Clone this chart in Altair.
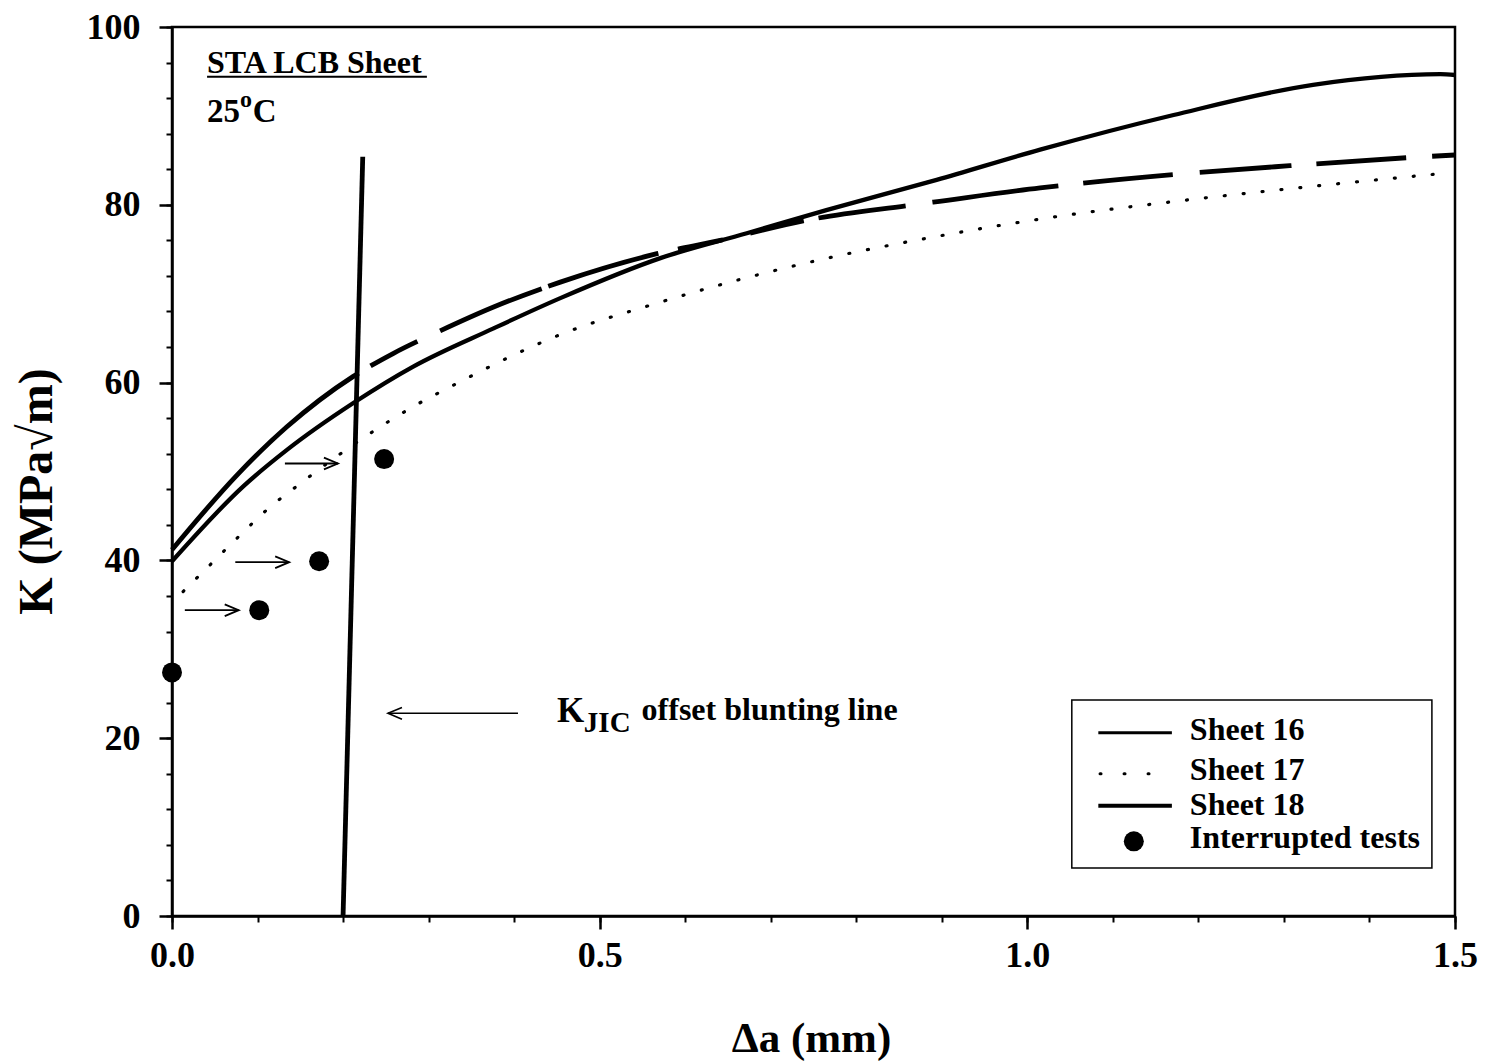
import altair as alt
import pandas as pd

FONT = "Liberation Serif"

# ---- data ----
s16_x = [0.0, 0.076, 0.134, 0.212, 0.259, 0.313, 0.376, 0.454, 0.567, 0.641, 0.738, 0.859, 0.89, 1.015, 1.171, 1.307, 1.444, 1.5]
s16_y = [41.2, 49.6, 55.0, 60.7, 63.3, 65.8, 68.5, 71.3, 74.5, 76.0, 78.2, 79.9, 80.3, 81.9, 83.4, 84.4, 85.3, 85.6]

s17_x = [0.013, 0.033, 0.076, 0.111, 0.148, 0.235, 0.282, 0.337, 0.395, 0.454, 0.559, 0.660, 0.771, 0.886, 1.022, 1.183, 1.346, 1.483]
s17_y = [36.5, 38.4, 42.5, 45.7, 48.5, 54.5, 57.3, 60.1, 62.9, 65.4, 68.7, 71.5, 74.1, 76.3, 78.5, 80.5, 82.2, 83.5]

s18_x = [0.0, 0.083, 0.134, 0.212, 0.282, 0.376, 0.454, 0.571, 0.672, 0.765, 0.894, 1.015, 1.171, 1.334, 1.483, 1.5]
s18_y = [39.9, 48.3, 52.4, 57.7, 61.8, 66.1, 69.5, 74.0, 76.8, 79.4, 82.8, 86.2, 90.1, 93.5, 94.7, 94.6]

tests_x = [0.0, 0.102, 0.172, 0.248]
tests_y = [27.4, 34.4, 39.9, 51.4]

blunt_x = [0.2, 0.223]
blunt_y = [0.0, 85.4]

# small arrows (start x, end x, y) pointing right
arrow_x1 = [0.015, 0.074, 0.132]
arrow_x2 = [0.078, 0.137, 0.194]
arrow_y = [34.4, 39.8, 50.9]
# annotation arrow pointing left
ann_x1 = [0.4045]
ann_x2 = [0.2525]
ann_y = [22.8]

legend_labels = ["Sheet 16", "Sheet 17", "Sheet 18", "Interrupted tests"]

x_major = [0.0, 0.5, 1.0, 1.5]
x_minor = [round(i * 0.1, 1) for i in range(16)]
y_major = [0, 20, 40, 60, 80, 100]
y_minor = list(range(0, 101, 4))

XS = alt.Scale(domain=[0, 1.5], nice=False, zero=False)
YS = alt.Scale(domain=[0, 100], nice=False, zero=False)

def X(field="x", axis=None):
    return alt.X(f"{field}:Q", scale=XS, axis=axis)

def Y(field="y", axis=None):
    return alt.Y(f"{field}:Q", scale=YS, axis=axis)

minor_x_axis = alt.Axis(values=x_minor, labels=False, tickSize=6, tickWidth=2, tickColor="black",
                        domain=False, grid=False, title=None, orient="bottom")
minor_y_axis = alt.Axis(values=y_minor, labels=False, tickSize=6, tickWidth=2, tickColor="black",
                        domain=False, grid=False, title=None, orient="left")
major_x_axis = alt.Axis(values=x_major, format=".1f", tickSize=13, tickWidth=2.5, tickColor="black",
                        labelFont=FONT, labelFontSize=36, labelFontWeight="bold", labelColor="black",
                        labelPadding=9, labelBaseline="top", domain=True, domainWidth=2.5, domainColor="black",
                        grid=False, title="Δa (mm)", titleFont=FONT, titleFontSize=43, titleFontWeight="bold",
                        titleColor="black", titleX=639, titleY=135, titleAlign="center",
                        titleBaseline="alphabetic", orient="bottom", labelFlush=False, labelOverlap=False)
major_y_axis = alt.Axis(values=y_major, format="d", tickSize=13, tickWidth=2.5, tickColor="black",
                        labelFont=FONT, labelFontSize=36, labelFontWeight="bold", labelColor="black",
                        labelPadding=19, domain=True, domainWidth=2.5, domainColor="black",
                        grid=False, title="K (MPa√m)", titleFont=FONT, titleFontSize=48, titleFontWeight="bold",
                        titleColor="black", titleX=-135, titleY=464, titleAlign="center", titleAngle=-90,
                        titleBaseline="middle", orient="left", labelFlush=False, labelOverlap=False)

df16 = pd.DataFrame({"x": s16_x, "y": s16_y})
df17 = pd.DataFrame({"x": s17_x, "y": s17_y})
df18 = pd.DataFrame({"x": s18_x, "y": s18_y})
dft = pd.DataFrame({"x": tests_x, "y": tests_y})
dfb = pd.DataFrame({"x": blunt_x, "y": blunt_y})

dash16 = [258, 14, 53, 25, 110, 7, 115, 20, 46, 28, 55, 15, 88, 27, 127, 25, 90, 27, 92, 25, 90, 26, 60, 20]

line18 = alt.Chart(df18).mark_line(color="black", strokeWidth=4.3, interpolate="monotone").encode(
    x=X(axis=minor_x_axis), y=Y(axis=minor_y_axis), order="x:Q")
line16 = alt.Chart(df16).mark_line(color="black", strokeWidth=4.8, interpolate="monotone",
                                   strokeDash=dash16).encode(x=X(), y=Y(), order="x:Q")
line17 = alt.Chart(df17).mark_line(color="black", strokeWidth=3.2, interpolate="monotone",
                                   strokeDash=[1, 18], strokeCap="round").encode(x=X(), y=Y(), order="x:Q")
blunt = alt.Chart(dfb).mark_line(color="black", strokeWidth=4.8).encode(x=X(), y=Y())
pts = alt.Chart(dft).mark_point(filled=True, color="black", size=400, opacity=1, shape="circle").encode(
    x=X(axis=major_x_axis), y=Y(axis=major_y_axis))

# arrows
dfa = pd.DataFrame({"x": arrow_x1, "x2": arrow_x2, "y": arrow_y})
shafts = alt.Chart(dfa).mark_rule(color="black", strokeWidth=1.8).encode(
    x=X(), x2="x2:Q", y=Y())
heads = alt.Chart(dfa).mark_point(shape="M -1 -0.42 L 0 0 L -1 0.42", filled=False, color="black",
                                  size=784, strokeWidth=1.8, opacity=1).encode(x=X("x2"), y=Y())
dfann = pd.DataFrame({"x": ann_x1, "x2": ann_x2, "y": ann_y})
ann_shaft = alt.Chart(dfann).mark_rule(color="black", strokeWidth=1.6).encode(x=X(), x2="x2:Q", y=Y())
ann_head = alt.Chart(dfann).mark_point(shape="M 1 -0.42 L 0 0 L 1 0.42", filled=False, color="black",
                                       size=784, strokeWidth=1.6, opacity=1).encode(x=X("x2"), y=Y())

# texts
txt = pd.DataFrame({
    "t": ["STA LCB Sheet", "25", "o", "C", "K", "JIC", "offset blunting line",
          legend_labels[0], legend_labels[1], legend_labels[2], legend_labels[3]],
    "x": [0.041, 0.041, 0.0795, 0.0945, 0.450, 0.4815, 0.549, 1.190, 1.190, 1.190, 1.190],
    "y": [94.8, 89.35, 91.0, 89.35, 21.8, 20.7, 22.0, 19.8, 15.3, 11.4, 7.6],
    "s": [32, 33, 24, 33, 35, 29, 32, 32, 32, 32, 32],
})
texts = alt.Chart(txt).mark_text(font=FONT, fontWeight="bold", align="left", baseline="alphabetic",
                                 color="black").encode(x=X(), y=Y(), text="t:N",
                                                       size=alt.Size("s:Q", scale=None, legend=None))
underline = alt.Chart(pd.DataFrame({"x": [0.041], "x2": [0.298], "y": [94.4]})).mark_rule(
    color="black", strokeWidth=2).encode(x=X(), x2="x2:Q", y=Y())

# legend box
box = alt.Chart(pd.DataFrame({"x": [1.052], "x2": [1.473], "y": [5.4], "y2": [24.3]})).mark_rect(
    fill="white", stroke="black", strokeWidth=1.5).encode(x=X(), x2="x2:Q", y=Y(), y2="y2:Q")
leg16 = alt.Chart(pd.DataFrame({"x": [1.083], "x2": [1.169], "y": [20.6]})).mark_rule(
    color="black", strokeWidth=3).encode(x=X(), x2="x2:Q", y=Y())
leg17 = alt.Chart(pd.DataFrame({"x": [1.085], "x2": [1.169], "y": [16.0]})).mark_rule(
    color="black", strokeWidth=3, strokeDash=[1, 23], strokeCap="round").encode(x=X(), x2="x2:Q", y=Y())
leg18 = alt.Chart(pd.DataFrame({"x": [1.083], "x2": [1.169], "y": [12.4]})).mark_rule(
    color="black", strokeWidth=4).encode(x=X(), x2="x2:Q", y=Y())
legpt = alt.Chart(pd.DataFrame({"x": [1.1245], "y": [8.4]})).mark_point(
    filled=True, color="black", size=400, opacity=1, shape="circle").encode(x=X(), y=Y())

chart = alt.layer(
    line18, line16, line17, blunt, pts, shafts, heads, ann_shaft, ann_head,
    underline, box, leg16, leg17, leg18, legpt, texts
).resolve_axis(x="independent", y="independent").properties(
    width=1283, height=889,
    autosize=alt.AutoSizeParams(type="none"),
    padding={"left": 172, "top": 27, "right": 42, "bottom": 148},
    background="white",
).configure_view(stroke="black", strokeWidth=2.5)

chart.save("out.html", embed_options={"renderer": "svg", "actions": False})
